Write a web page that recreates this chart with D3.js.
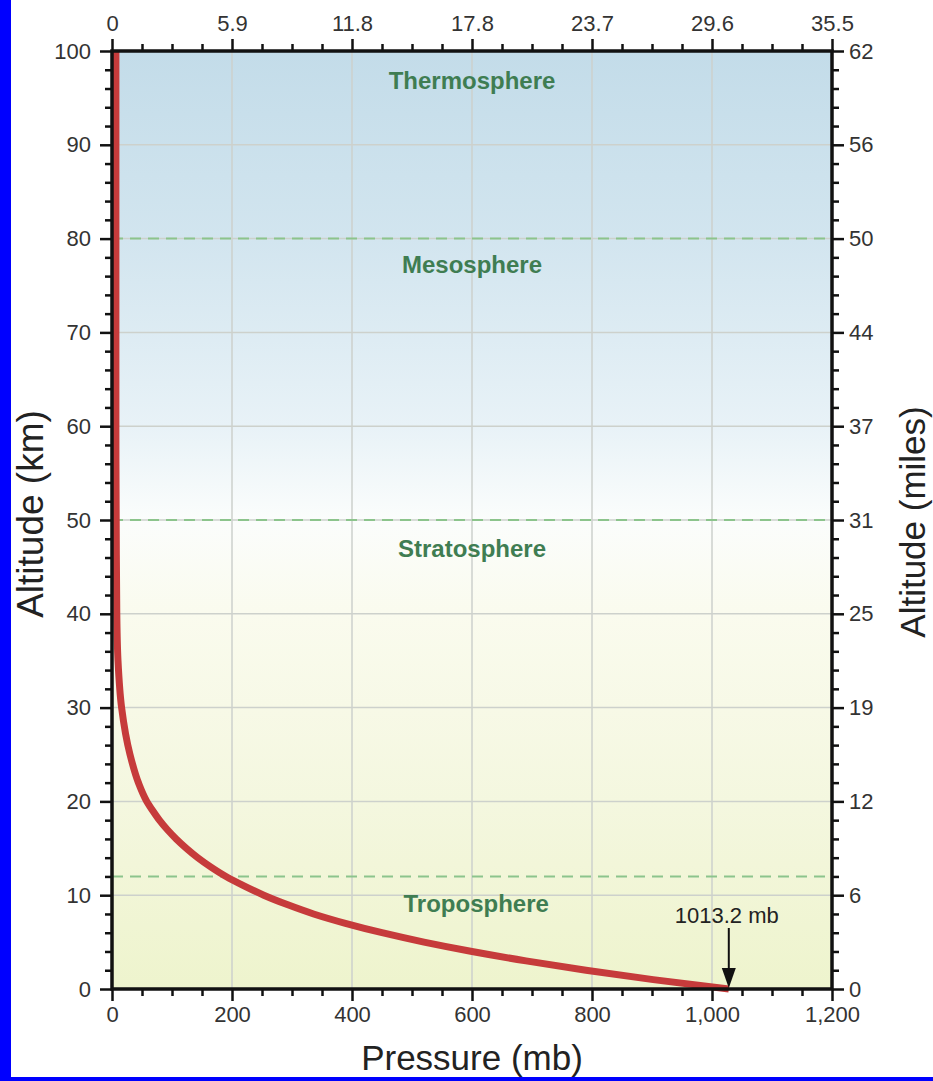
<!DOCTYPE html>
<html><head><meta charset="utf-8">
<script src="https://cdn.jsdelivr.net/npm/d3@7"></script>
<style>
body{margin:0;background:#fff;}
svg{display:block;font-family:"Liberation Sans",Arial,Helvetica,sans-serif;}
</style></head>
<body>
<script>
// ---- data ----
const altitudeKm = [0, 1, 2, 3, 4, 5, 6, 7, 8, 9, 10, 11, 12, 13, 14, 15, 16, 17, 18, 19, 20, 22, 25, 30, 35, 40, 50, 60, 70, 80, 100];
const pressureMb = [1028, 902, 790, 690, 600, 520, 450, 389, 336, 292, 253, 220, 190, 165, 143, 124, 107, 92, 79, 68, 58, 44, 30, 16, 10, 8, 7, 6.5, 6.5, 6.5, 6.5];
const pressureTicks = [0, 200, 400, 600, 800, 1000, 1200];
const inHgTickLabels = ["0", "5.9", "11.8", "17.8", "23.7", "29.6", "35.5"];
const altitudeTicks = [0, 10, 20, 30, 40, 50, 60, 70, 80, 90, 100];
const milesTickLabels = ["0", "6", "12", "19", "25", "31", "37", "44", "50", "56", "62"];
const layerNames = ["Thermosphere", "Mesosphere", "Stratosphere", "Troposphere"];
const layerLabelAlt = [96.0, 76.3, 46.1, 8.2];
const layerLabelPressure = [600, 600, 600, 607];
const layerBoundaries = [80, 50, 12];
const surfaceLabel = "1013.2 mb";
const surfacePressure = 1028;

// ---- layout ----
const W = 933, H = 1081;
const L = 112, R = 832, T = 51, B = 989;
const svg = d3.select("body").append("svg").attr("width", W).attr("height", H);
svg.append("rect").attr("width", W).attr("height", H).attr("fill", "#0000ff");
svg.append("rect").attr("x", 11).attr("y", 0).attr("width", W - 11).attr("height", 1077).attr("fill", "#ffffff");

const x = d3.scaleLinear().domain([0, 1200]).range([L, R]);
const y = d3.scaleLinear().domain([0, 100]).range([B, T]);

// background gradient
const defs = svg.append("defs");
const grad = defs.append("linearGradient").attr("id", "bg").attr("x1", 0).attr("y1", 0).attr("x2", 0).attr("y2", 1);
[[0, "#c3dce9"], [0.2, "#d2e5ef"], [0.4, "#e8f2f7"], [0.5, "#fbfdfc"], [0.6, "#fafbee"], [0.8, "#f4f7df"], [1, "#eef4cd"]]
  .forEach(([o, c]) => grad.append("stop").attr("offset", o).attr("stop-color", c));
svg.append("rect").attr("x", L).attr("y", T).attr("width", R - L).attr("height", B - T).attr("fill", "url(#bg)");

// grid
const g = svg.append("g");
g.selectAll(".vg").data(pressureTicks.slice(1, -1)).enter().append("line")
  .attr("x1", d => x(d)).attr("x2", d => x(d)).attr("y1", T).attr("y2", B)
  .attr("stroke", "#cdd1cc").attr("stroke-width", 1.5);
g.selectAll(".hg").data(altitudeTicks.slice(1, -1)).enter().append("line")
  .attr("y1", d => y(d)).attr("y2", d => y(d)).attr("x1", L).attr("x2", R)
  .attr("stroke", "#cdd1cc").attr("stroke-width", 1.5);

// layer boundaries
g.selectAll(".lb").data(layerBoundaries).enter().append("line")
  .attr("y1", d => y(d)).attr("y2", d => y(d)).attr("x1", L).attr("x2", R)
  .attr("stroke", "#8cc48c").attr("stroke-width", 2).attr("stroke-dasharray", "11,7");

// layer labels
g.selectAll(".ll").data(layerNames).enter().append("text")
  .attr("x", (d, i) => x(layerLabelPressure[i])).attr("y", (d, i) => y(layerLabelAlt[i]))
  .attr("text-anchor", "middle").attr("font-weight", "bold").attr("font-size", 24)
  .attr("fill", "#3f7d52").text(d => d);

// curve
const pts = altitudeKm.map((a, i) => [pressureMb[i], a]);
svg.append("path").datum(pts)
  .attr("d", d3.line().x(d => x(d[0])).y(d => y(d[1])).curve(d3.curveMonotoneY))
  .attr("fill", "none").attr("stroke", "#c63b3b").attr("stroke-width", 7).attr("stroke-linecap", "butt");

// arrow annotation
const ax = x(surfacePressure);
svg.append("line").attr("x1", ax).attr("x2", ax).attr("y1", 928).attr("y2", 972)
  .attr("stroke", "#111").attr("stroke-width", 2);
svg.append("path").attr("d", `M${ax - 7},${968} L${ax + 7},${968} L${ax},${y(0) - 1} Z`).attr("fill", "#111");
svg.append("text").attr("x", ax - 2).attr("y", 923).attr("text-anchor", "middle")
  .attr("font-size", 22).attr("fill", "#222").text(surfaceLabel);

// axes
function styleAxis(sel) {
  sel.select(".domain").remove();
  sel.selectAll(".tick line").attr("stroke", "#111").attr("stroke-width", 2.5);
  sel.selectAll(".tick text").attr("fill", "#333").attr("font-size", 22);
}
const minorP = d3.range(0, 1201, 50).filter(v => v % 200 !== 0);
const minorA = d3.range(0, 101, 2).filter(v => v % 10 !== 0);

svg.append("g").attr("transform", `translate(0,${B})`)
  .call(d3.axisBottom(x).tickValues(pressureTicks).tickFormat(d3.format(",")).tickSize(12).tickPadding(5)).call(styleAxis);
svg.append("g").attr("transform", `translate(0,${B})`)
  .call(d3.axisBottom(x).tickValues(minorP).tickFormat("").tickSize(7)).call(styleAxis);
svg.append("g").attr("transform", `translate(0,${T})`)
  .call(d3.axisTop(x).tickValues(pressureTicks).tickFormat((d, i) => inHgTickLabels[i]).tickSize(12).tickPadding(8)).call(styleAxis);
svg.append("g").attr("transform", `translate(0,${T})`)
  .call(d3.axisTop(x).tickValues(minorP).tickFormat("").tickSize(7)).call(styleAxis);
svg.append("g").attr("transform", `translate(${L},0)`)
  .call(d3.axisLeft(y).tickValues(altitudeTicks).tickSize(12).tickPadding(9)).call(styleAxis);
svg.append("g").attr("transform", `translate(${L},0)`)
  .call(d3.axisLeft(y).tickValues(minorA).tickFormat("").tickSize(7)).call(styleAxis);
svg.append("g").attr("transform", `translate(${R},0)`)
  .call(d3.axisRight(y).tickValues(altitudeTicks).tickFormat((d, i) => milesTickLabels[i]).tickSize(12).tickPadding(5)).call(styleAxis);
svg.append("g").attr("transform", `translate(${R},0)`)
  .call(d3.axisRight(y).tickValues(minorA).tickFormat("").tickSize(7)).call(styleAxis);

// frame
svg.append("rect").attr("x", L).attr("y", T).attr("width", R - L).attr("height", B - T)
  .attr("fill", "none").attr("stroke", "#111").attr("stroke-width", 3.5);

// titles
svg.append("text").attr("x", (L + R) / 2).attr("y", 1070).attr("text-anchor", "middle")
  .attr("font-size", 35).attr("fill", "#222").text("Pressure (mb)");
svg.append("text").attr("transform", `translate(43,${(T + B) / 2 - 6}) rotate(-90)`).attr("text-anchor", "middle")
  .attr("font-size", 37).attr("fill", "#222").text("Altitude (km)");
svg.append("text").attr("transform", `translate(925,${(T + B) / 2 + 2}) rotate(-90)`).attr("text-anchor", "middle")
  .attr("font-size", 35).attr("fill", "#222").text("Altitude (miles)");
</script>
</body></html>
